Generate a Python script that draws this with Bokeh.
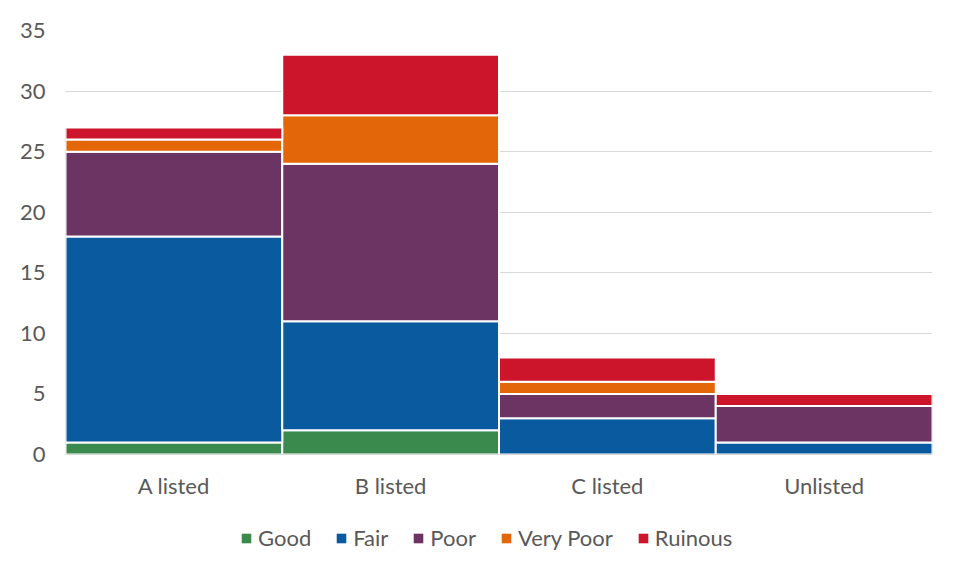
from bokeh.plotting import figure
from bokeh.layouts import column
from bokeh.models import Legend, LegendItem, FixedTicker, Range1d, FactorRange
from bokeh.embed import file_html
from bokeh.resources import INLINE

categories = ["A listed", "B listed", "C listed", "Unlisted"]
series = ["Good", "Fair", "Poor", "Very Poor", "Ruinous"]
good = [1, 2, 0, 0]
fair = [17, 9, 3, 1]
poor = [7, 13, 2, 3]
very_poor = [1, 4, 1, 0]
ruinous = [1, 5, 2, 1]
colors = ["#3A8A4E", "#0A5AA0", "#6C3463", "#E36609", "#CC142B"]
y_ticks = [0, 5, 10, 15, 20, 25, 30, 35]

data = {"cat": categories, "Good": good, "Fair": fair, "Poor": poor,
        "Very Poor": very_poor, "Ruinous": ruinous}

FONT = "Lato"
TXT = "#595959"
FS = "22px"

p = figure(x_range=FactorRange(*categories, range_padding=0), y_range=Range1d(0, 35),
           width=962, height=510, output_backend="svg", toolbar_location=None,
           min_border_left=65, min_border_right=30, min_border_top=30, min_border_bottom=56)
p.outline_line_color = None
p.border_fill_color = "white"

renderers = p.vbar_stack(series, x="cat", width=1.0, source=data, color=colors,
                         line_color="white", line_width=2)

p.yaxis.ticker = FixedTicker(ticks=y_ticks)
p.yaxis.axis_line_color = None
p.yaxis.major_tick_line_color = None
p.yaxis.minor_tick_line_color = None
p.yaxis.major_label_text_font = FONT
p.yaxis.major_label_text_font_size = FS
p.yaxis.major_label_text_color = TXT
p.yaxis.major_label_standoff = 14

p.xaxis.axis_line_color = "#d9d9d9"
p.xaxis.axis_line_width = 1
p.xaxis.major_tick_line_color = None
p.xaxis.minor_tick_line_color = None
p.xaxis.major_label_text_font = FONT
p.xaxis.major_label_text_font_size = FS
p.xaxis.major_label_text_color = TXT
p.xaxis.major_label_standoff = 11

p.xgrid.grid_line_color = None
p.ygrid.grid_line_color = "#d9d9d9"
p.ygrid.grid_line_width = 1
p.ygrid.ticker = FixedTicker(ticks=y_ticks)

# legend strip (its dummy glyphs lie outside the strip's visible range)
q = figure(x_range=Range1d(0, 1), y_range=Range1d(0, 1), width=962, height=58,
           output_backend="svg", toolbar_location=None,
           min_border_left=0, min_border_right=0, min_border_top=0, min_border_bottom=0)
q.axis.visible = False
q.grid.visible = False
q.outline_line_color = None
dummies = [q.vbar(x=[-10], top=[-10], bottom=[-11], width=1, color=c, line_color=None)
           for c in colors]
legend = Legend(items=[LegendItem(label=s, renderers=[r]) for s, r in zip(series, dummies)],
                orientation="horizontal", location=(175, 17),
                label_text_font=FONT, label_text_font_size=FS, label_text_color=TXT,
                glyph_width=12, glyph_height=12, spacing=24, label_standoff=6,
                border_line_color=None, background_fill_alpha=0, padding=0, margin=0)
q.add_layout(legend, "center")

open("out.html", "w").write(file_html(column(p, q, spacing=0), INLINE))
